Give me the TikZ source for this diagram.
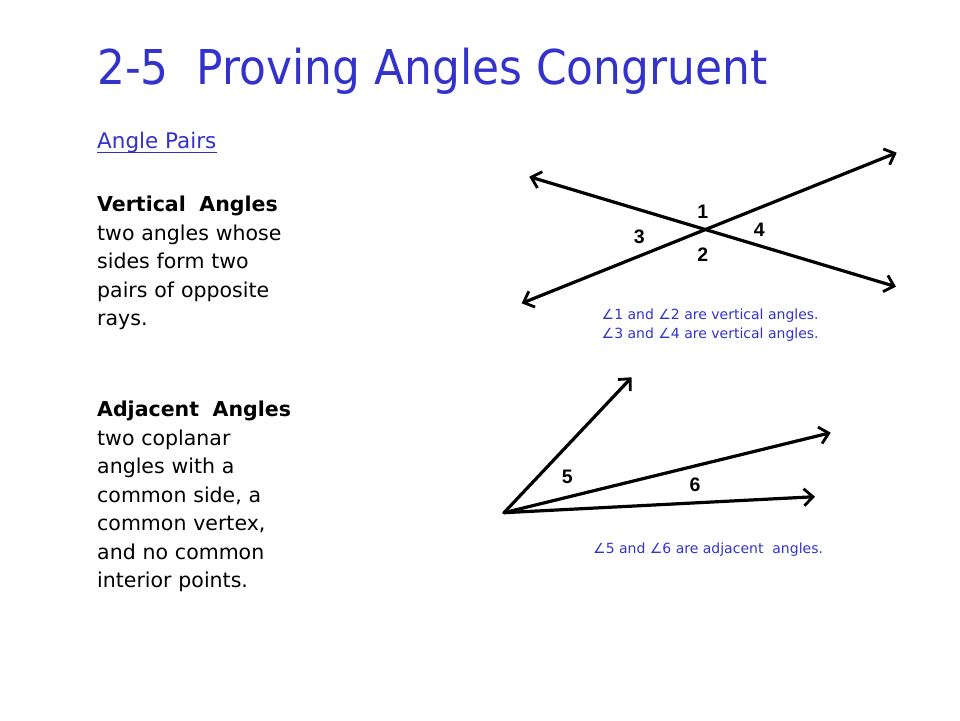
\documentclass[tikz,border=0pt]{standalone}
\usepackage{fontspec}
\setmainfont{DejaVu Sans}
\newfontfamily\numfont{Liberation Sans}
\usetikzlibrary{arrows.meta}
\definecolor{slideblue}{RGB}{51,51,204}
\tikzset{
  ray/.style={line width=3.2pt, line cap=round, arrows={Straight Barb[length=9pt,width=17pt,line width=2.8pt]-Straight Barb[length=9pt,width=17pt,line width=2.8pt]}},
  oneray/.style={line width=3.2pt, line cap=round, arrows={-Straight Barb[length=9pt,width=17pt,line width=2.8pt]}},
  numlbl/.style={font=\numfont\bfseries\fontsize{19.5}{19.5}\selectfont, inner sep=0pt},
  caption/.style={text=slideblue, font=\fontsize{14}{18}\selectfont, anchor=base west, inner sep=0pt},
  body/.style={font=\fontsize{20.5}{28.5}\selectfont, anchor=base west, inner sep=0pt, align=left, text width=260pt},
}
\begin{document}
\begin{tikzpicture}[x=1pt,y=-1pt]
\useasboundingbox (0,0) rectangle (960,720);
\fill[white] (0,0) rectangle (960,720);
% title
\node[anchor=base west, inner sep=0pt, text=slideblue, font=\fontsize{48}{48}\selectfont] (title) at (97,84) {\scalebox{0.915}[1]{2-5\ \ Proving Angles Congruent}};
% section header
\node[anchor=base west, inner sep=0pt, text=slideblue, font=\fontsize{21.5}{21.5}\selectfont] (pairs) at (97,148) {Angle Pairs};
\draw[slideblue, line width=1.3pt] ([yshift=-4.5pt]pairs.base west) -- ([yshift=-4.5pt]pairs.base east);
% left texts
\node[body] (vert) at (97,211.7) {\textbf{Vertical\ \ Angles}\\two angles whose\\sides form two\\pairs of opposite\\rays.};
\node[body] (adj) at (97,416.7) {\textbf{Adjacent\ \ Angles}\\two coplanar\\angles with a\\common side, a\\common vertex,\\and no common\\interior points.};
% vertical angles figure
\coordinate (a1) at (529.3,176.7);
\coordinate (a2) at (896,286.7);
\coordinate (b1) at (521.7,303.3);
\coordinate (b2) at (896.7,152.7);
\draw[ray] (a1) -- (a2);
\draw[ray] (b1) -- (b2);
\node[numlbl] (n1) at (702.7,211.7) {1};
\node[numlbl] (n4) at (759.3,229.3) {4};
\node[numlbl] (n3) at (639.3,236.7) {3};
\node[numlbl] (n2) at (702.7,255) {2};
\node[caption] (cap1) at (601.5,319) {∠1 and ∠2 are vertical angles.};
\node[caption] (cap1b) at (601.5,338.5) {∠3 and ∠4 are vertical angles.};
% adjacent angles figure
\coordinate (v) at (504,512.7);
\coordinate (r1) at (631.7,377.3);
\coordinate (r2) at (830.7,432.7);
\coordinate (r3) at (815,496.7);
\draw[oneray] (v) -- (r1);
\draw[oneray] (v) -- (r2);
\draw[oneray] (v) -- (r3);
\node[numlbl] (n5) at (567.3,477.3) {5};
\node[numlbl] (n6) at (695,484.3) {6};
\node[caption] (cap2) at (593,553) {∠5 and ∠6 are adjacent\ \ angles.};
\end{tikzpicture}
\end{document}
